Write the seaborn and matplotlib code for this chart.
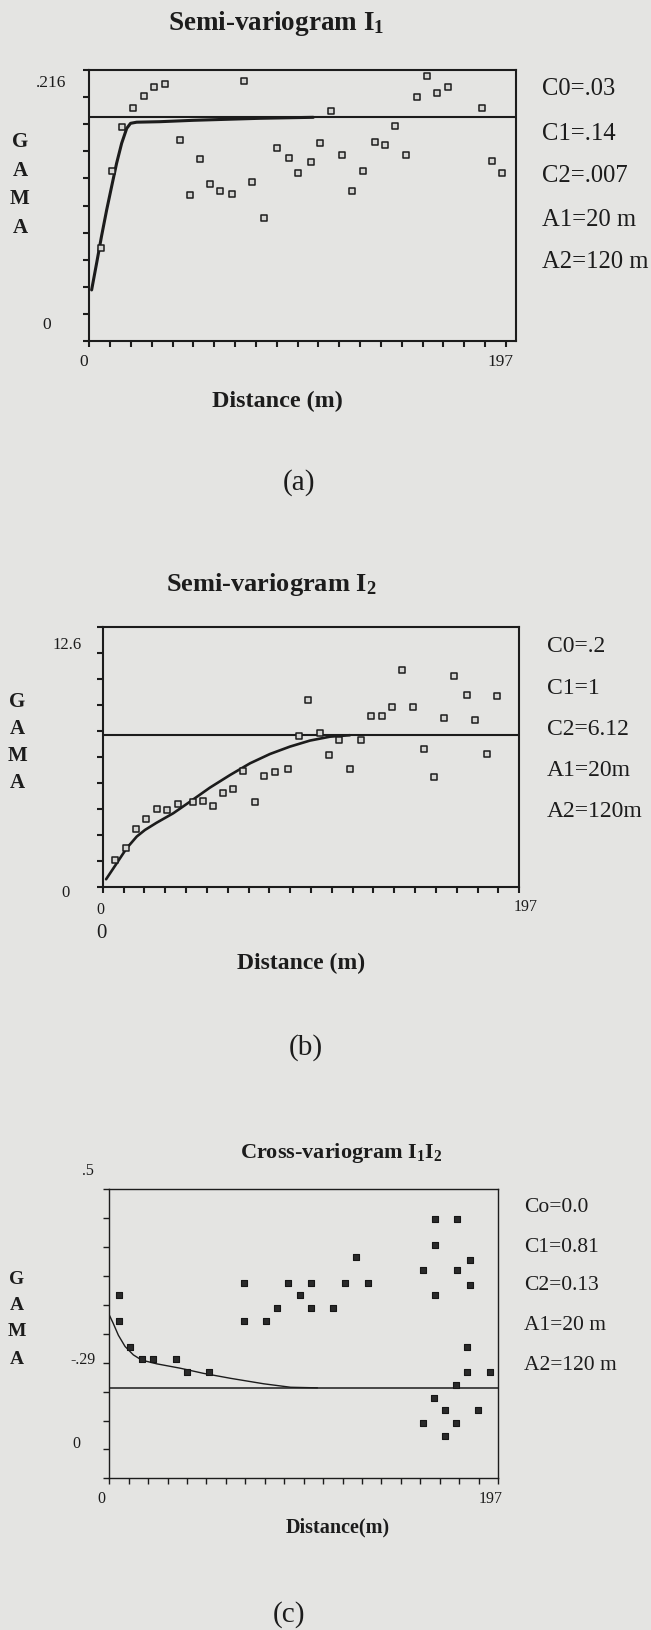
import numpy as np
import matplotlib
matplotlib.use("Agg")
import matplotlib.pyplot as plt
import seaborn as sns

# ---------------- data ----------------
# Panel (a): Semi-variogram I1
a_dist = [5.4, 10.6, 15.6, 20.6, 25.7, 30.7, 35.9, 42.7, 47.6, 52.5, 56.9, 61.9,
          67.3, 73.0, 77.1, 82.6, 88.9, 94.2, 98.8, 104.6, 108.9, 114.3, 119.3,
          124.3, 129.5, 134.9, 139.6, 144.4, 149.9, 154.9, 159.6, 164.5, 169.7,
          185.8, 190.4, 195.3]
a_gamma = [.0739, .1352, .1703, .1857, .1955, .2027, .2046, .1599, .1161, .1448,
           .1249, .1198, .1169, .2075, .1267, .0978, .1538, .1459, .1336, .1427,
           .1576, .1836, .1485, .1196, .1355, .1589, .1562, .1714, .1485, .1947,
           .2115, .1979, .2027, .1857, .1435, .1342]
a_model_dist = [1.1, 3.5, 5.8, 8.2, 10.6, 12.9, 15.3, 17.7, 19.5, 22.4, 33.4,
                49.2, 64.9, 80.7, 105.9]
a_model_gamma = [.0407, .0624, .0837, .1044, .1235, .1416, .1576, .1695, .1735,
                 .1744, .1748, .1759, .1767, .1775, .1783]
a_sill = 0.1788
a_params = ["C0=.03", "C1=.14", "C2=.007", "A1=20 m", "A2=120 m"]

# Panel (b): Semi-variogram I2
b_dist = [5.8, 10.9, 15.8, 20.5, 25.5, 30.4, 35.5, 42.6, 47.3, 52.0, 56.7, 61.5,
          66.5, 72.2, 76.3, 81.5, 87.5, 92.7, 97.1, 102.8, 107.0, 111.9, 116.9,
          122.0, 127.0, 132.2, 137.0, 141.5, 146.7, 152.1, 156.7, 161.2, 166.3,
          172.1, 176.0, 181.6, 186.4]
b_gamma = [1.32, 1.89, 2.83, 3.30, 3.78, 3.75, 4.04, 4.12, 4.18, 3.96, 4.56, 4.75,
           5.62, 4.14, 5.38, 5.59, 5.72, 7.32, 9.06, 7.50, 6.41, 7.12, 5.73, 7.14,
           8.30, 8.30, 8.76, 10.52, 8.76, 6.70, 5.35, 8.19, 10.24, 9.30, 8.13,
           6.46, 9.29]
b_model_dist = [1.6, 6.6, 11.3, 16.1, 20.0, 25.5, 33.4, 41.3, 50.7, 60.2, 69.7,
                79.1, 88.6, 98.0, 107.5, 116.9]
b_model_gamma = [0.39, 1.16, 1.89, 2.46, 2.78, 3.13, 3.59, 4.15, 4.83, 5.44, 6.01,
                 6.46, 6.82, 7.11, 7.30, 7.37]
b_sill = 7.37
b_params = ["C0=.2", "C1=1", "C2=6.12", "A1=20m", "A2=120m"]

# Panel (c): Cross-variogram I1I2 (plot units, bottom=0, top=1)
c_dist = [4.9, 4.9, 10.5, 16.4, 22.0, 33.6, 39.2, 50.7, 68.2, 68.2, 79.5, 85.1,
          90.7, 96.6, 102.2, 102.2, 113.6, 119.5, 124.9, 130.9, 159.2, 158.9,
          164.5, 165.0, 165.1, 165.1, 170.0, 170.0, 175.5, 175.5, 176.2, 176.2,
          181.4, 181.4, 182.8, 182.8, 186.8, 192.8]
c_gamma = [.634, .544, .456, .412, .412, .412, .368, .368, .677, .544, .544, .591,
           .677, .633, .677, .591, .591, .677, .765, .677, .722, .191, .279, .633,
           .896, .807, .235, .148, .324, .191, .896, .722, .456, .368, .757, .668,
           .235, .368]
c_model_dist = [0.0, 2.0, 4.6, 8.0, 12.2, 16.4, 24.1, 35.9, 47.8, 61.4, 78.3,
                91.9, 105.5]
c_model_gamma = [.565, .536, .495, .456, .427, .409, .396, .381, .363, .346, .327,
                 .315, .313]
c_sill = 0.3126
c_params = ["Co=0.0", "C1=0.81", "C2=0.13", "A1=20 m", "A2=120 m"]

titles = ["Semi-variogram I$_{1}$", "Semi-variogram I$_{2}$",
          "Cross-variogram I$_{1}$I$_{2}$"]
xlabels = ["Distance (m)", "Distance (m)", "Distance(m)"]
panel_tags = ["(a)", "(b)", "(c)"]
a_ylabels = [".216", "0"]
b_ylabels = ["12.6", "0"]
c_ylabels = [".5", "-.29", "0"]
x_ticklabels = ["0", "197"]
gama = ["G", "A", "M", "A"]

# ---------------- style ----------------
sns.set_theme(style="white")
BG = "#e4e4e2"
INK = "#1c1c1c"
plt.rcParams["font.family"] = ["Liberation Serif", "DejaVu Serif"]
plt.rcParams["mathtext.fontset"] = "custom"
plt.rcParams["mathtext.rm"] = "Liberation Serif:bold"
plt.rcParams["mathtext.it"] = "Liberation Serif:bold"
plt.rcParams["mathtext.bf"] = "Liberation Serif:bold"
plt.rcParams["mathtext.default"] = "rm"
plt.rcParams["text.color"] = INK

W, H = 651, 1630
fig = plt.figure(figsize=(W / 100, H / 100), dpi=100, facecolor=BG)


def ft(x, y, s, **kw):
    kw.setdefault("ha", "center")
    kw.setdefault("va", "center")
    kw.setdefault("color", INK)
    fig.text(x / W, 1 - y / H, s, **kw)


def make_axes(l, r, t, b):
    return fig.add_axes([l / W, 1 - b / H, (r - l) / W, (b - t) / H])


def style_axes(ax, xmax, ymax, lw):
    ax.set_facecolor("none")
    ax.set_xlim(0, xmax)
    ax.set_ylim(0, ymax)
    ax.set_xticks(np.linspace(0, 197, 21))
    ax.set_yticks(np.linspace(0, ymax, 11))
    ax.tick_params(axis="both", direction="out", length=4, width=lw,
                   color=INK, labelleft=False, labelbottom=False,
                   left=True, bottom=True)
    for sp in ax.spines.values():
        sp.set_visible(True)
        sp.set_color(INK)
        sp.set_linewidth(lw)
    ax.set_xlabel("")
    ax.set_ylabel("")
    ax.grid(False)


# ---------------- panel (a) ----------------
axa = make_axes(89.3, 515.7, 70, 341)
sns.lineplot(x=a_model_dist, y=a_model_gamma, ax=axa, color=INK, lw=2.2,
             sort=False, estimator=None)
axa.axhline(a_sill, color=INK, lw=1.5)
sns.scatterplot(x=a_dist, y=a_gamma, ax=axa, marker="s", s=19,
                facecolor="#d6d6d4", edgecolor=INK, linewidth=1.1, zorder=3)
style_axes(axa, 201.6, 0.216, 1.5)

ft(276, 23, titles[0], fontsize=19.5, fontweight="bold")
ft(51, 82.7, a_ylabels[0], fontsize=12.5)
ft(47, 325, a_ylabels[1], fontsize=12.5)
ft(83.3, 361.7, x_ticklabels[0], fontsize=12.5)
ft(500.7, 361.7, x_ticklabels[1], fontsize=12.5)
ft(277, 401.7, xlabels[0], fontsize=17.4, fontweight="bold")
ft(299, 483, panel_tags[0], fontsize=21)
for yy, s in zip([142, 171, 199, 228], gama):
    ft(20, yy, s, fontsize=15, fontweight="bold")
for yy, s in zip([89.3, 134, 175.7, 220, 262.3], a_params):
    ft(541.7, yy, s, fontsize=17.7, ha="left")

# ---------------- panel (b) ----------------
axb = make_axes(102.7, 519.3, 627.3, 887.3)
sns.lineplot(x=b_model_dist, y=b_model_gamma, ax=axb, color=INK, lw=1.9,
             sort=False, estimator=None)
axb.axhline(b_sill, color=INK, lw=1.5)
sns.scatterplot(x=b_dist, y=b_gamma, ax=axb, marker="s", s=19,
                facecolor="#d6d6d4", edgecolor=INK, linewidth=1.1, zorder=3)
style_axes(axb, 197, 12.6, 1.5)

ft(271, 585, titles[1], fontsize=19, fontweight="bold")
ft(67.3, 645, b_ylabels[0], fontsize=12)
ft(65, 892.7, b_ylabels[1], fontsize=12)
ft(100, 910, x_ticklabels[0], fontsize=11.5)
ft(526, 906.7, x_ticklabels[1], fontsize=11.5)
ft(101, 933, "0", fontsize=15)
ft(301, 963, xlabels[1], fontsize=17, fontweight="bold")
ft(306, 1048, panel_tags[1], fontsize=21)
for yy, s in zip([701.7, 729.3, 756, 783.3], gama):
    ft(17.4, yy, s, fontsize=15, fontweight="bold")
for yy, s in zip([646.7, 688, 729, 770.7, 811.7], b_params):
    ft(547, yy, s, fontsize=17, ha="left")

# ---------------- panel (c) ----------------
axc = make_axes(109.3, 498, 1189.3, 1478.3)
sns.lineplot(x=c_model_dist, y=c_model_gamma, ax=axc, color=INK, lw=1.0,
             sort=False, estimator=None)
axc.axhline(c_sill, color=INK, lw=1.1)
sns.scatterplot(x=c_dist, y=c_gamma, ax=axc, marker="s", s=18,
                facecolor="#2a2a2a", edgecolor="#161616", linewidth=0.8,
                zorder=3)
style_axes(axc, 197, 1.0, 1.0)

ft(341.5, 1153, titles[2], fontsize=16, fontweight="bold")
ft(88.3, 1170.7, c_ylabels[0], fontsize=11.5)
ft(83.3, 1360, c_ylabels[1], fontsize=11.5)
ft(76, 1444, c_ylabels[2], fontsize=11.5)
ft(101.7, 1499, x_ticklabels[0], fontsize=11.5)
ft(491, 1499, x_ticklabels[1], fontsize=11.5)
ft(338, 1527, xlabels[2], fontsize=14.5, fontweight="bold")
ft(288.5, 1615, panel_tags[2], fontsize=21)
for yy, s in zip([1280, 1306, 1332, 1359], gama):
    ft(16.6, yy, s, fontsize=14, fontweight="bold")
for yy, s in zip([1208, 1247.7, 1286, 1325.5, 1366], c_params):
    ft(524, yy, s, fontsize=15.5, ha="left")

fig.savefig("out.png", dpi=100, facecolor=BG)
